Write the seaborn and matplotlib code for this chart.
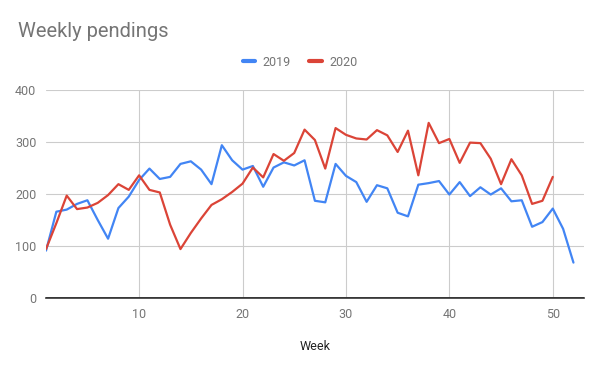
import numpy as np
import pandas as pd
import seaborn as sns
import matplotlib.pyplot as plt
from matplotlib.lines import Line2D

# Weekly values
weeks_2019 = list(range(1, 53))
pend_2019 = [91, 166, 170, 181, 188, 150, 114, 173, 195, 227,
             249, 229, 233, 258, 263, 247, 219, 294, 265, 247,
             254, 214, 251, 261, 255, 265, 187, 184, 258, 235,
             223, 185, 217, 211, 164, 157, 218, 221, 225, 199,
             223, 196, 213, 199, 211, 186, 188, 137, 146, 172,
             133, 68]
weeks_2020 = list(range(1, 51))
pend_2020 = [94, 144, 197, 171, 174, 183, 198, 219, 208, 236,
             208, 203, 141, 94, 125, 153, 179, 190, 204, 220,
             251, 232, 277, 264, 279, 324, 304, 249, 327, 314,
             307, 305, 323, 313, 281, 322, 236, 337, 298, 306,
             260, 299, 298, 268, 219, 267, 236, 181, 187, 233]

df = pd.concat([
    pd.DataFrame({"Week": weeks_2019, "Pendings": pend_2019, "Year": "2019"}),
    pd.DataFrame({"Week": weeks_2020, "Pendings": pend_2020, "Year": "2020"}),
])

sns.set_style("white")
plt.rcParams["font.family"] = ["Roboto", "DejaVu Sans"]

fig = plt.figure(figsize=(6, 3.71), dpi=100)
ax = fig.add_axes([0.0767, 0.197, 0.8963, 0.560])
sns.lineplot(data=df, x="Week", y="Pendings", hue="Year",
             palette={"2019": "#4285F4", "2020": "#DB4437"},
             linewidth=1.6, ax=ax, legend=False)

ax.set_xlim(1, 53)
ax.set_ylim(0, 400)
ax.set_xticks([10, 20, 30, 40, 50])
ax.set_yticks([0, 100, 200, 300, 400])
ax.grid(True, color="#cccccc", linewidth=0.8)
ax.set_axisbelow(True)
for s in ["top", "right", "left"]:
    ax.spines[s].set_visible(False)
ax.spines["bottom"].set_color("#333333")
ax.spines["bottom"].set_linewidth(1.2)
ax.axhline(0, color="#333333", linewidth=1.2, zorder=3)
ax.tick_params(length=0, labelsize=9, colors="#757575", pad=7)
ax.set_xlabel("Week", fontsize=9, color="#222222", labelpad=14)
ax.set_ylabel("")

fig.text(0.03, 0.915, "Weekly pendings", fontsize=14.5, color="#757575", va="center")

handles = [Line2D([], [], color="#4285F4", linewidth=3),
           Line2D([], [], color="#DB4437", linewidth=3)]
fig.legend(handles, ["2019", "2020"], loc="center", bbox_to_anchor=(0.5, 0.832),
           ncol=2, frameon=False, fontsize=9, handlelength=1.0, columnspacing=1.45,
           handletextpad=0.6, labelcolor="#757575")

fig.savefig("out.png", dpi=100)
